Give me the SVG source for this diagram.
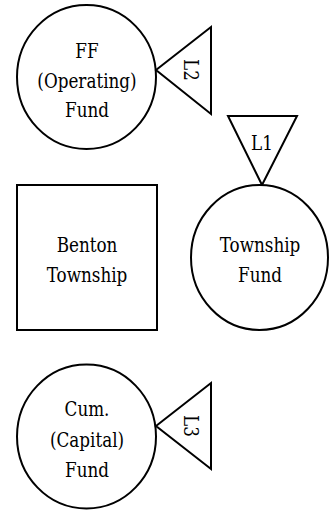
<svg xmlns="http://www.w3.org/2000/svg" width="329" height="510" viewBox="0 0 329 510">
<style>
.s{fill:#fff;stroke:#000;stroke-width:2}
</style>
<rect x="0" y="0" width="329" height="510" fill="#fff"/>
<g id="connectors"></g>
<g font-family="'DejaVu Serif', 'Liberation Serif', serif" font-size="21" text-anchor="middle" fill="#000">
<g id="ff-fund">
<ellipse class="s" cx="86.5" cy="77" rx="69.5" ry="72"/>
<g transform="translate(87,0) scale(0.8,1)"><text x="0" y="58">FF</text><text x="0" y="88">(Operating)</text><text x="0" y="117">Fund</text></g>
</g>
<g id="l2">
<polygon class="s" points="156,70 211,27 211,114"/>
<g transform="translate(192,70) rotate(90) scale(0.8,1)"><text x="0" y="0" dominant-baseline="central">L2</text></g>
</g>
<g id="l1">
<polygon class="s" points="228,116 297,116 262,185"/>
<g transform="translate(262,0) scale(0.8,1)"><text x="0" y="150">L1</text></g>
</g>
<g id="benton-township">
<rect class="s" x="17" y="185" width="140" height="145"/>
<g transform="translate(87,0) scale(0.8,1)"><text x="0" y="252">Benton</text><text x="0" y="282">Township</text></g>
</g>
<g id="township-fund">
<ellipse class="s" cx="259.5" cy="257.5" rx="68.5" ry="72.5"/>
<g transform="translate(260,0) scale(0.8,1)"><text x="0" y="252">Township</text><text x="0" y="282">Fund</text></g>
</g>
<g id="cum-fund">
<ellipse class="s" cx="86.5" cy="436.5" rx="69.5" ry="72"/>
<g transform="translate(87,0) scale(0.8,1)"><text x="0" y="416">Cum.</text><text x="0" y="447">(Capital)</text><text x="0" y="477">Fund</text></g>
</g>
<g id="l3">
<polygon class="s" points="156,426 211,383 211,469"/>
<g transform="translate(192,426) rotate(90) scale(0.8,1)"><text x="0" y="0" dominant-baseline="central">L3</text></g>
</g>
</g>
</svg>
